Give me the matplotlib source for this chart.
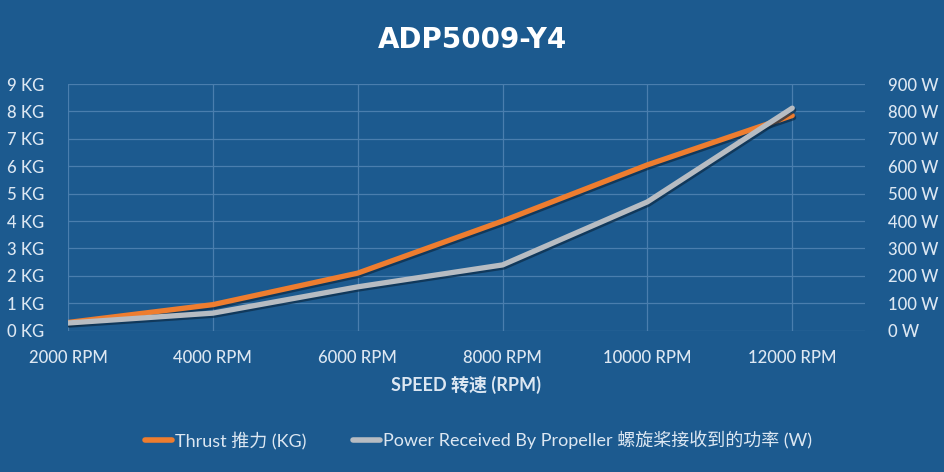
import numpy as np
import matplotlib.pyplot as plt
import matplotlib.patheffects as pe

# data
speed_labels = ['2000 RPM', '4000 RPM', '6000 RPM', '8000 RPM', '10000 RPM', '12000 RPM']
thrust_kg = [0.3, 0.95, 2.1, 4.0, 6.05, 7.85]
power_w = [28, 64, 160, 240, 470, 812]
kg_ticks = [0, 1, 2, 3, 4, 5, 6, 7, 8, 9]
w_ticks = [0, 100, 200, 300, 400, 500, 600, 700, 800, 900]

bg = '#1c5a8f'
grid_c = '#4a7eae'
text_c = '#dce7f2'
orange = '#ee7d2f'
grey = '#b7bcc2'
fonts = ['Lato', 'Noto Sans CJK SC', 'DejaVu Sans']
plt.rcParams['font.family'] = fonts

fig = plt.figure(figsize=(9.45, 4.72), dpi=100, facecolor=bg)
ax = fig.add_axes([0.072, 0.2994, 0.843, 0.5226], facecolor=bg)
ax2 = ax.twinx()

x = np.arange(len(speed_labels))
shadow = [pe.SimpleLineShadow(offset=(1, -1.5), shadow_color='#0b2a45', alpha=0.7), pe.Normal()]

ax.plot(x, thrust_kg, color=orange, lw=3.8, solid_capstyle='round', path_effects=shadow, zorder=3)
ax2.plot(x, power_w, color=grey, lw=3.8, solid_capstyle='round', path_effects=shadow, zorder=3)

ax.set_xlim(0, 5.5)
ax.set_ylim(0, 9)
ax2.set_ylim(0, 900)
ax.set_xticks(x)
ax.set_xticklabels(speed_labels)
ax.set_yticks(kg_ticks)
ax.set_yticklabels([f'{v} KG' for v in kg_ticks])
ax2.set_yticks(w_ticks)
ax2.set_yticklabels([f'{v} W' for v in w_ticks])

ax.grid(True, color=grid_c, lw=0.9)
ax.set_axisbelow(True)
for a in (ax, ax2):
    for s in a.spines.values():
        s.set_visible(False)
    a.tick_params(length=0, colors=text_c, labelsize=12)
ax.tick_params(axis='y', pad=17)
ax.tick_params(axis='x', pad=14)
ax2.tick_params(axis='y', pad=17)
for lab in ax.get_yticklabels() + ax2.get_yticklabels() + ax.get_xticklabels():
    lab.set_fontweight('medium')

ax.set_xlabel('SPEED 转速 (RPM)', color=text_c, fontsize=13, fontweight='bold', labelpad=7)

fig.text(0.5, 0.915, 'ADP5009-Y4', ha='center', va='center', color='white',
         fontsize=20, fontweight='bold', family='DejaVu Sans')

h1, = ax.plot([], [], color=orange, lw=4, solid_capstyle='round')
h2, = ax.plot([], [], color=grey, lw=4, solid_capstyle='round')
leg = fig.legend([h1, h2], ['Thrust 推力 (KG)', 'Power Received By Propeller 螺旋桨接收到的功率 (W)'],
                 loc='center', bbox_to_anchor=(0.506, 0.068), ncol=2, frameon=False,
                 fontsize=13, handlelength=1.5, handletextpad=0.15, columnspacing=2.6)
for t in leg.get_texts():
    t.set_color(text_c)

fig.savefig('out.png', dpi=100, facecolor=bg)
